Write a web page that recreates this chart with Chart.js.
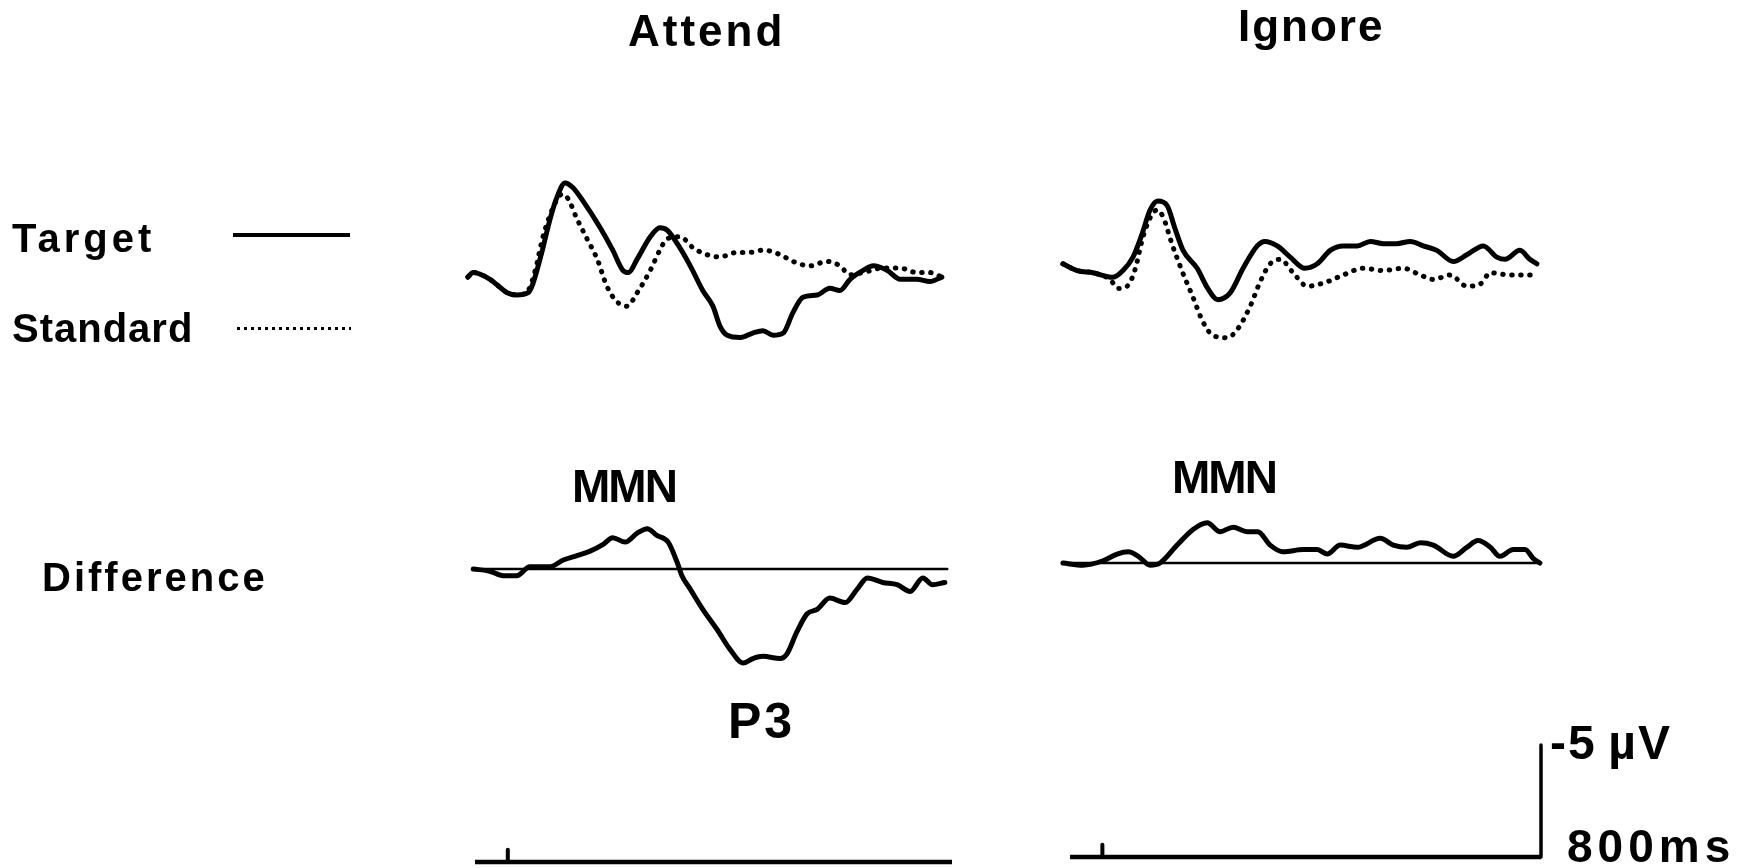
<!DOCTYPE html>
<html>
<head>
<meta charset="utf-8">
<script src="https://cdn.jsdelivr.net/npm/chart.js@4"></script>
<style>
  body { margin: 0; background: #fff; }
  #figure { position: relative; width: 1752px; height: 868px; overflow: hidden;
            font-family: "Liberation Sans", Arial, sans-serif; font-weight: bold; color: #000; }
  #figure canvas { position: absolute; left: 0; top: 0; }
  .label { position: absolute; line-height: 1; white-space: nowrap; }
  .key { position: absolute; }
</style>
</head>
<body>
<div id="figure">
  <canvas id="erp" width="1752" height="868"></canvas>

  <div class="label" style="left:628px; top:9px; font-size:44px; letter-spacing:3px;">Attend</div>
  <div class="label" style="left:1238px; top:4px; font-size:44px; letter-spacing:2px;">Ignore</div>

  <div class="label" style="left:12px; top:218px; font-size:40px; letter-spacing:4px;">Target</div>
  <div class="key" style="left:233px; top:233px; width:117px; height:4px; background:#000;"></div>
  <div class="label" style="left:12px; top:308px; font-size:40px; letter-spacing:1px;">Standard</div>
  <div class="key" style="left:235px; top:326px; width:116px; height:5px;
       background: radial-gradient(circle, #000 1.5px, transparent 2px) 0 0 / 7px 5px repeat-x;"></div>

  <div class="label" style="left:42px; top:557px; font-size:40px; letter-spacing:3px;">Difference</div>
  <div class="label" style="left:572px; top:463px; font-size:46px; letter-spacing:-2px;">MMN</div>
  <div class="label" style="left:1172px; top:454px; font-size:46px; letter-spacing:-2px;">MMN</div>
  <div class="label" style="left:728px; top:696px; font-size:50px; letter-spacing:3px;">P3</div>

  <div class="label" style="left:1550px; top:719px; font-size:48px; letter-spacing:2px;">-5&thinsp;µV</div>
  <div class="label" style="left:1567px; top:823px; font-size:46px; letter-spacing:5px;">800ms</div>
</div>

<script>
// [ms, µV] pairs, negative up
const attendTarget = [
  [-67,-0.4],[-58,-0.6],[-30,-0.3],[-1,0.3],[15,0.4],[34,0.3],[42,-0.1],[57,-1.5],[71,-3.0],
  [83,-4.0],[96,-4.6],[109,-4.4],[126,-3.8],[155,-2.6],[176,-1.6],[193,-0.7],[202,-0.6],
  [217,-1.2],[239,-2.2],[255,-2.6],[267,-2.5],[284,-1.9],[306,-0.9],[327,0.2],[344,0.9],
  [356,1.8],[368,2.2],[390,2.3],[411,2.1],[428,2.0],[445,2.2],[462,2.1],[478,1.2],[495,0.5],
  [519,0.4],[540,0.1],[557,0.2],[574,-0.3],[596,-0.7],[613,-0.9],[636,-0.7],[658,-0.3],
  [686,-0.3],[708,-0.2],[728,-0.4]
];
const attendStandard = [
  [-67,-0.4],[-58,-0.6],[-30,-0.3],[-1,0.3],[15,0.4],[34,0.2],[46,-0.7],[59,-2.2],[76,-3.5],
  [91,-4.1],[101,-3.9],[116,-3.0],[133,-2.1],[150,-1.2],[166,0.0],[183,0.7],[200,0.9],
  [217,0.3],[239,-0.7],[255,-1.6],[267,-2.1],[289,-2.2],[311,-1.7],[334,-1.4],[356,-1.3],
  [384,-1.5],[406,-1.5],[428,-1.6],[457,-1.4],[478,-1.1],[507,-0.9],[535,-1.1],[557,-0.9],
  [574,-0.5],[596,-0.6],[629,-0.8],[658,-0.8],[686,-0.6],[708,-0.6],[728,-0.4]
];
const attendDiff = [
  [-58,0.0],[-30,0.1],[-8,0.3],[15,0.3],[37,-0.1],[71,-0.1],[93,-0.4],[116,-0.6],[138,-0.8],
  [160,-1.1],[176,-1.4],[197,-1.2],[217,-1.6],[234,-1.8],[250,-1.5],[269,-1.2],[284,-0.3],
  [292,0.3],[306,0.9],[327,1.8],[351,2.7],[373,3.6],[395,4.2],[411,4.0],[428,3.9],[457,4.0],
  [468,3.8],[485,2.8],[502,2.0],[519,1.8],[540,1.3],[566,1.5],[586,0.9],[603,0.4],[629,0.6],
  [653,0.7],[675,1.0],[696,0.4],[712,0.7],[733,0.6]
];
const ignoreTarget = [
  [-67,-0.5],[-43,-0.2],[-16,-0.1],[18,0.1],[35,-0.2],[52,-0.8],[67,-1.8],[81,-2.9],[94,-3.3],
  [110,-3.1],[123,-2.1],[137,-1.1],[161,-0.3],[179,0.6],[196,1.1],[217,0.8],[239,-0.3],
  [263,-1.3],[276,-1.5],[297,-1.3],[319,-0.8],[344,-0.3],[365,-0.5],[387,-1.1],[409,-1.3],
  [433,-1.3],[455,-1.5],[477,-1.4],[500,-1.4],[523,-1.5],[545,-1.3],[568,-1.1],[596,-0.6],
  [619,-0.9],[647,-1.3],[670,-0.8],[684,-0.7],[709,-1.1],[726,-0.7],[738,-0.5]
];
const ignoreStandard = [
  [-67,-0.5],[-43,-0.2],[-16,-0.1],[13,0.2],[27,0.6],[42,0.5],[55,-0.2],[69,-1.7],[84,-2.7],
  [93,-2.9],[103,-2.6],[118,-1.4],[135,-0.2],[154,1.0],[171,2.1],[188,2.7],[212,2.8],
  [230,2.4],[251,1.4],[268,0.3],[285,-0.5],[302,-0.7],[324,-0.1],[348,0.5],[382,0.3],
  [409,0.0],[443,-0.3],[477,-0.2],[511,-0.3],[540,0.0],[562,0.2],[591,0.0],[619,0.5],
  [642,0.4],[659,-0.1],[692,0.0],[732,0.0]
];
const ignoreDiff = [
  [-67,0.0],[-33,0.1],[1,-0.1],[25,-0.4],[44,-0.5],[61,-0.3],[81,0.1],[98,0.0],[127,-0.8],
  [154,-1.5],[178,-1.8],[200,-1.4],[222,-1.6],[246,-1.4],[264,-1.4],[285,-0.8],[307,-0.5],
  [341,-0.6],[365,-0.6],[382,-0.4],[404,-0.8],[433,-0.7],[472,-1.1],[494,-0.8],[517,-0.7],
  [540,-0.9],[562,-0.8],[596,-0.3],[619,-0.7],[638,-1.0],[659,-0.7],[675,-0.3],[698,-0.6],
  [718,-0.6],[732,-0.2],[743,0.0]
];

const attendZero = [[-58,0],[737,0]];
const ignoreZero = [[-67,0],[743,0]];
const epoch = [-55, 745];       // time axis, 800 ms
const onsetMs = 0;
const onsetTickUv = 0.55;
const scaleBarUv = 5;

const W = 1752, H = 868;
const UV_PX = 22.4;             // pixels per µV

// choose min/max so that d0..d1 lands on pixels p0..p1 of a scale `size` px long
function span(d0, d1, p0, p1, size) {
  const per = (d1 - d0) / (p1 - p0);
  const min = d0 - p0 * per;
  return { min, max: min + size * per };
}
function timeScale(p0, p1) {
  return { type: 'linear', display: false, bounds: 'data', ...span(epoch[0], epoch[1], p0, p1, W) };
}
function uvScale(zeroPx) {
  return { type: 'linear', display: false, bounds: 'data', reverse: true,
           ...span(0, 1, zeroPx, zeroPx + UV_PX, H) };
}

function trace(data, x, y, extra) {
  return Object.assign({
    data, xAxisID: x, yAxisID: y,
    borderColor: '#000', borderWidth: 5, pointRadius: 0, fill: false,
    cubicInterpolationMode: 'monotone', borderCapStyle: 'round', borderJoinStyle: 'round'
  }, extra);
}
const dotted = { borderWidth: 5, borderDash: [0.5, 8.5] };
const straight = { cubicInterpolationMode: 'default', tension: 0 };

const axisA = [[epoch[0], 0], [epoch[1], 0]];
const axisI = [[epoch[0], 0], [epoch[1], 0]];
const tick = [[onsetMs, 0], [onsetMs, -onsetTickUv]];
const bar = [[epoch[1], 0], [epoch[1], -scaleBarUv]];

new Chart(document.getElementById('erp'), {
  type: 'line',
  data: {
    datasets: [
      trace(attendStandard, 'xA', 'yTopA', dotted),
      trace(attendTarget, 'xA', 'yTopA'),
      trace(ignoreStandard, 'xI', 'yTopI', dotted),
      trace(ignoreTarget, 'xI', 'yTopI'),

      trace(attendZero, 'xA', 'yDiffA', Object.assign({ borderWidth: 2.5 }, straight)),
      trace(attendDiff, 'xA', 'yDiffA'),
      trace(ignoreZero, 'xI', 'yDiffI', Object.assign({ borderWidth: 2.5 }, straight)),
      trace(ignoreDiff, 'xI', 'yDiffI'),

      trace(axisA, 'xA', 'yAxA', Object.assign({ borderWidth: 4.5, borderCapStyle: 'butt' }, straight)),
      trace(tick, 'xA', 'yAxA', Object.assign({ borderWidth: 4 }, straight)),
      trace(axisI, 'xI', 'yAxI', Object.assign({ borderWidth: 4.5, borderCapStyle: 'butt' }, straight)),
      trace(tick, 'xI', 'yAxI', Object.assign({ borderWidth: 4 }, straight)),
      trace(bar, 'xI', 'yAxI', Object.assign({ borderWidth: 3.5 }, straight))
    ]
  },
  options: {
    responsive: false,
    animation: false,
    devicePixelRatio: 1,
    events: [],
    layout: { padding: 0 },
    plugins: { legend: { display: false }, tooltip: { enabled: false } },
    scales: {
      xA: timeScale(475, 952),
      xI: timeScale(1070, 1541),
      yTopA: uvScale(286),
      yTopI: uvScale(275),
      yDiffA: uvScale(569),
      yDiffI: uvScale(563),
      yAxA: uvScale(862),
      yAxI: uvScale(857)
    }
  }
});
</script>
</body>
</html>
